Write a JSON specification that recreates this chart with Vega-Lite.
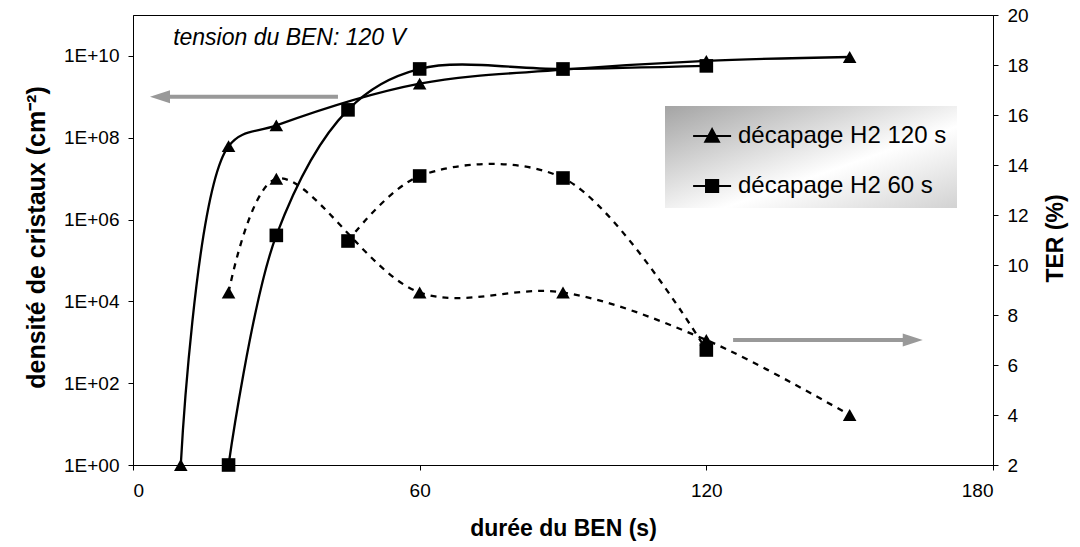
{
  "$schema": "https://vega.github.io/schema/vega-lite/v6.json",
  "width": 860,
  "height": 450,
  "autosize": "none",
  "padding": {"left": 133, "top": 15, "right": 87, "bottom": 82},
  "background": "white",
  "config": {
    "font": "Liberation Sans",
    "view": {"stroke": "black", "strokeWidth": 1},
    "axis": {
      "labelFont": "Liberation Sans",
      "titleFont": "Liberation Sans",
      "labelColor": "black",
      "titleColor": "black",
      "domainColor": "black",
      "tickColor": "black",
      "grid": false,
      "labelFontSize": 19,
      "titleFontWeight": "bold",
      "tickSize": 5,
      "labelPadding": 9
    }
  },
  "datasets": {
    "mesures": [
      {"duree": 10, "serie": "décapage H2 120 s", "densite": 1, "ter": null},
      {"duree": 20, "serie": "décapage H2 120 s", "densite": 62000000, "ter": 8.9},
      {"duree": 30, "serie": "décapage H2 120 s", "densite": 200000000, "ter": 13.45},
      {"duree": 60, "serie": "décapage H2 120 s", "densite": 2100000000, "ter": 8.9},
      {"duree": 90, "serie": "décapage H2 120 s", "densite": 4600000000, "ter": 8.9},
      {"duree": 120, "serie": "décapage H2 120 s", "densite": 7600000000, "ter": 7.0},
      {"duree": 150, "serie": "décapage H2 120 s", "densite": 9400000000, "ter": 4.0},
      {"duree": 20, "serie": "décapage H2 60 s", "densite": 1, "ter": null},
      {"duree": 30, "serie": "décapage H2 60 s", "densite": 410000, "ter": null},
      {"duree": 45, "serie": "décapage H2 60 s", "densite": 480000000, "ter": 10.96},
      {"duree": 60, "serie": "décapage H2 60 s", "densite": 4800000000, "ter": 13.56},
      {"duree": 90, "serie": "décapage H2 60 s", "densite": 4800000000, "ter": 13.48},
      {"duree": 120, "serie": "décapage H2 60 s", "densite": 5700000000, "ter": 6.6}
    ],
    "fleches": [
      {"axe": "densite", "duree": 5.65, "duree_fin": 42.9, "valeur": 1000000000},
      {"axe": "ter", "duree": 163.2, "duree_fin": 125.6, "valeur": 7}
    ],
    "notes": [
      {"texte": "tension du BEN: 120 V", "duree": 8.4, "valeur": 28000000000}
    ]
  },
  "layer": [
    {
      "layer": [
        {
          "data": {"name": "mesures"},
          "transform": [{"filter": "isValid(datum.densite)"}],
          "mark": {"type": "line", "color": "black", "strokeWidth": 2.3, "interpolate": "catmull-rom"},
          "encoding": {
            "x": {"field": "duree", "type": "quantitative", "title": "durée du BEN (s)",
              "scale": {"domain": [0, 180], "nice": false},
              "axis": {"values": [0, 60, 120, 180], "titleFontSize": 23, "labelPadding": 11, "titlePadding": 17}},
            "y": {"field": "densite", "type": "quantitative", "title": "densité de cristaux (cm⁻²)",
              "scale": {"type": "log", "domain": [1, 100000000000], "nice": false},
              "axis": {"values": [1, 100, 10000, 1000000, 100000000, 10000000000],
                "labelExpr": "'1E+' + (datum.value < 1e9 ? '0' : '') + format(log(datum.value)/LN10, '.0f')",
                "titleFontSize": 25, "titleAngle": -90, "titleX": -97, "titleY": 222,
                "titleAlign": "center", "titleBaseline": "middle"}},
            "detail": {"field": "serie"},
            "opacity": {"field": "serie", "type": "nominal",
              "scale": {"range": [1, 1]},
              "legend": {
                "title": null, "orient": "none", "legendX": 532, "legendY": 91,
                "padding": 10, "symbolSize": 1444, "labelOffset": 23, "rowPadding": 18, "labelLimit": 400,
                "labelFontSize": 24, "labelFont": "Liberation Sans", "labelColor": "black",
                "symbolStrokeWidth": 2, "symbolStrokeColor": "black", "symbolFillColor": "black",
                "fillColor": "#dedede",
                "encode": {
                  "symbols": {"update": {
                    "shape": {"signal": "datum.value == 'décapage H2 120 s' ? 'M-0.1,0H1.9M0.9,-0.36L1.26,0.3L0.54,0.3Z' : 'M-0.1,0H1.9M0.58,-0.32H1.22V0.32H0.58Z'"},
                    "fill": {"value": "black"},
                    "stroke": {"value": "black"},
                    "strokeWidth": {"value": 2}
                  }},
                  "legend": {"update": {"fill": {"value": {"gradient": "linear", "x1": 0, "y1": 0, "x2": 1, "y2": 1,
                    "stops": [{"offset": 0, "color": "#a4a4a4"}, {"offset": 0.6, "color": "#ffffff"}, {"offset": 1, "color": "#d2d2d2"}]}}}}
                }
              }
            }
          }
        },
        {
          "data": {"name": "mesures"},
          "transform": [{"filter": "isValid(datum.densite)"}],
          "mark": {"type": "point", "filled": true, "color": "black", "opacity": 1, "size": 185},
          "encoding": {
            "x": {"field": "duree", "type": "quantitative", "title": "durée du BEN (s)"},
            "y": {"field": "densite", "type": "quantitative", "title": "densité de cristaux (cm⁻²)"},
            "shape": {"field": "serie", "type": "nominal",
              "scale": {"domain": ["décapage H2 120 s", "décapage H2 60 s"], "range": ["triangle-up", "square"]},
              "legend": null
            }
          }
        },
        {
          "data": {"name": "fleches"},
          "transform": [{"filter": "datum.axe == 'densite'"}],
          "mark": {"type": "rule", "color": "#999999", "strokeWidth": 4},
          "encoding": {
            "x": {"field": "duree", "type": "quantitative", "title": "durée du BEN (s)"},
            "x2": {"field": "duree_fin"},
            "y": {"field": "valeur", "type": "quantitative", "title": "densité de cristaux (cm⁻²)"}
          }
        },
        {
          "data": {"name": "fleches"},
          "transform": [{"filter": "datum.axe == 'densite'"}],
          "mark": {"type": "point", "shape": "M-1,0L1,-0.65L1,0.65Z", "filled": true, "color": "#999999", "opacity": 1, "size": 400},
          "encoding": {
            "x": {"field": "duree", "type": "quantitative", "title": "durée du BEN (s)"},
            "y": {"field": "valeur", "type": "quantitative", "title": "densité de cristaux (cm⁻²)"}
          }
        },
        {
          "data": {"name": "notes"},
          "mark": {"type": "text", "fontStyle": "italic", "fontSize": 23, "align": "left", "baseline": "middle", "color": "black"},
          "encoding": {
            "x": {"field": "duree", "type": "quantitative", "title": "durée du BEN (s)"},
            "y": {"field": "valeur", "type": "quantitative", "title": "densité de cristaux (cm⁻²)"},
            "text": {"field": "texte"}
          }
        }
      ]
    },
    {
      "layer": [
        {
          "data": {"name": "mesures"},
          "transform": [{"filter": "isValid(datum.ter)"}],
          "mark": {"type": "line", "color": "black", "strokeWidth": 2.3, "strokeDash": [6, 6], "interpolate": "catmull-rom"},
          "encoding": {
            "x": {"field": "duree", "type": "quantitative", "title": "durée du BEN (s)"},
            "y": {"field": "ter", "type": "quantitative", "title": "TER (%)",
              "scale": {"domain": [2, 20], "nice": false},
              "axis": {"orient": "right", "values": [2, 4, 6, 8, 10, 12, 14, 16, 18, 20],
                "titleFontSize": 23, "titleAngle": -90, "titleX": 62, "titleY": 223,
                "titleAlign": "center", "titleBaseline": "middle"}},
            "detail": {"field": "serie"}
          }
        },
        {
          "data": {"name": "mesures"},
          "transform": [{"filter": "isValid(datum.ter)"}],
          "mark": {"type": "point", "filled": true, "color": "black", "opacity": 1, "size": 185},
          "encoding": {
            "x": {"field": "duree", "type": "quantitative", "title": "durée du BEN (s)"},
            "y": {"field": "ter", "type": "quantitative", "title": "TER (%)"},
            "shape": {"field": "serie", "type": "nominal", "legend": null}
          }
        },
        {
          "data": {"name": "fleches"},
          "transform": [{"filter": "datum.axe == 'ter'"}],
          "mark": {"type": "rule", "color": "#999999", "strokeWidth": 4},
          "encoding": {
            "x": {"field": "duree", "type": "quantitative", "title": "durée du BEN (s)"},
            "x2": {"field": "duree_fin"},
            "y": {"field": "valeur", "type": "quantitative", "title": "TER (%)"}
          }
        },
        {
          "data": {"name": "fleches"},
          "transform": [{"filter": "datum.axe == 'ter'"}],
          "mark": {"type": "point", "shape": "M1,0L-1,-0.65L-1,0.65Z", "filled": true, "color": "#999999", "opacity": 1, "size": 400},
          "encoding": {
            "x": {"field": "duree", "type": "quantitative", "title": "durée du BEN (s)"},
            "y": {"field": "valeur", "type": "quantitative", "title": "TER (%)"}
          }
        }
      ]
    }
  ],
  "resolve": {"scale": {"y": "independent"}, "axis": {"y": "independent"}}
}
